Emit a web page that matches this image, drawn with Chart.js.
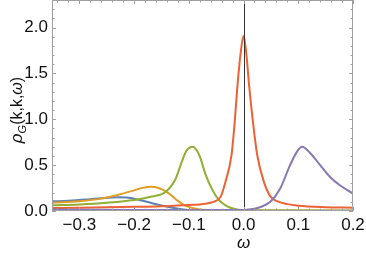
<!DOCTYPE html>
<html>
<head>
<meta charset="utf-8">
<script src="https://cdn.jsdelivr.net/npm/chart.js@4"></script>
<style>
  body { margin: 0; background: #fff; }
  #wrap { width: 366px; height: 255px; }
</style>
</head>
<body>
<div id="wrap"><canvas id="spec"></canvas></div>
<script>
// omega values and spectral weight, one pair per curve
const blueW = [-0.35, -0.32, -0.29, -0.26, -0.23, -0.21, -0.19, -0.17, -0.15, -0.13, -0.11, -0.09, -0.06, -0.02, 0.05, 0.2];
const blueRho = [0.105, 0.113, 0.125, 0.14, 0.15, 0.145, 0.12, 0.09, 0.06, 0.035, 0.017, 0.009, 0.006, 0.005, 0.004, 0.004];

const orangeW = [-0.35, -0.3, -0.26, -0.23, -0.2, -0.185, -0.17, -0.155, -0.14, -0.13, -0.12, -0.11, -0.1, -0.09, -0.075, -0.05, 0, 0.2];
const orangeRho = [0.09, 0.107, 0.135, 0.175, 0.225, 0.252, 0.265, 0.25, 0.205, 0.16, 0.11, 0.07, 0.045, 0.028, 0.014, 0.008, 0.005, 0.004];

const greenW = [-0.35, -0.3, -0.25, -0.2, -0.17, -0.142, -0.125, -0.115, -0.105, -0.093, -0.081, -0.069, -0.057, -0.045, -0.035, -0.024, -0.01, 0.02, 0.2];
const greenRho = [0.063, 0.072, 0.09, 0.12, 0.155, 0.21, 0.34, 0.5, 0.65, 0.70, 0.61, 0.39, 0.23, 0.12, 0.07, 0.035, 0.015, 0.006, 0.004];

const redW = [-0.35, -0.3, -0.25, -0.2, -0.15, -0.1, -0.07, -0.055, -0.042, -0.033, -0.022, -0.016, -0.0115, -0.0055, 0, 0.005, 0.01, 0.017, 0.025, 0.037, 0.049, 0.06, 0.08, 0.1, 0.15, 0.2];
const redRho = [0.033, 0.036, 0.04, 0.045, 0.052, 0.065, 0.08, 0.1, 0.154, 0.32, 0.61, 0.98, 1.34, 1.71, 1.91, 1.72, 1.38, 0.98, 0.61, 0.32, 0.16, 0.11, 0.075, 0.058, 0.042, 0.035];

const purpleW = [-0.35, -0.2, -0.1, -0.05, 0, 0.02, 0.031, 0.049, 0.067, 0.085, 0.098, 0.107, 0.122, 0.14, 0.158, 0.176, 0.2];
const purpleRho = [0.015, 0.012, 0.01, 0.01, 0.012, 0.025, 0.044, 0.1, 0.245, 0.5, 0.65, 0.70, 0.63, 0.5, 0.37, 0.28, 0.19];

const xTicks = [-0.3, -0.2, -0.1, 0.0, 0.1, 0.2];
const yTicks = [0.0, 0.5, 1.0, 1.5, 2.0];

const FONT = "Liberation Sans, Arial, sans-serif";
const FRAME = "#a0a0a0";

function pts(w, r) {
    return w.map((x, i) => ({ x: x, y: r[i] }));
}

function fmt(v) {
    if (Math.abs(v) < 1e-9) return "0.0";
    return v.toFixed(1).replace("-", "\u2212");
}

function series(w, r, color, order) {
    return {
        data: pts(w, r),
        borderColor: color,
        borderWidth: 2,
        pointRadius: 0,
        showLine: true,
        fill: false,
        cubicInterpolationMode: "monotone",
        order: order
    };
}

// frame with inward ticks on all sides, the line at omega = 0, and the axis titles
const framePlugin = {
    id: "frame",
    afterDatasetsDraw(chart) {
        const ctx = chart.ctx;
        const a = chart.chartArea;
        const xs = chart.scales.x;
        const ys = chart.scales.y;
        ctx.save();

        // omega = 0 line
        const x0 = Math.round(xs.getPixelForValue(0)) + 0.5;
        ctx.strokeStyle = "#333";
        ctx.lineWidth = 1;
        ctx.beginPath();
        ctx.moveTo(x0, a.top);
        ctx.lineTo(x0, a.bottom);
        ctx.stroke();

        ctx.strokeStyle = FRAME;
        ctx.strokeRect(a.left + 0.5, a.top + 0.5, a.right - a.left - 1, a.bottom - a.top - 1);

        ctx.beginPath();
        for (let i = -18; i <= 10; i++) {
            const v = i * 0.02;
            if (v < xs.min - 1e-9 || v > xs.max + 1e-9) continue;
            const len = i % 5 === 0 ? 4 : 2.5;
            const px = Math.round(xs.getPixelForValue(v)) + 0.5;
            ctx.moveTo(px, a.bottom);
            ctx.lineTo(px, a.bottom - len);
            ctx.moveTo(px, a.top);
            ctx.lineTo(px, a.top + len);
        }
        for (let i = 0; i <= 23; i++) {
            const v = i * 0.1;
            const len = i % 5 === 0 ? 4 : 2.5;
            const py = Math.round(ys.getPixelForValue(v)) + 0.5;
            ctx.moveTo(a.left, py);
            ctx.lineTo(a.left + len, py);
            ctx.moveTo(a.right, py);
            ctx.lineTo(a.right - len, py);
        }
        ctx.stroke();

        // x title
        ctx.fillStyle = "#111";
        ctx.textAlign = "center";
        ctx.textBaseline = "alphabetic";
        ctx.font = "italic 17px " + FONT;
        ctx.fillText("\u03c9", xs.getPixelForValue(0), 248);

        // y title with subscript
        ctx.translate(22, 110);
        ctx.rotate(-Math.PI / 2);
        const parts = [
            ["\u03c1", "italic 17px " + FONT, 0],
            ["G", "italic 11px " + FONT, 4],
            ["(k,k,", "16px " + FONT, 0],
            ["\u03c9", "italic 16px " + FONT, 0],
            [")", "16px " + FONT, 0]
        ];
        let total = 0;
        parts.forEach(p => { ctx.font = p[1]; total += ctx.measureText(p[0]).width; });
        let cx = -total / 2;
        ctx.textAlign = "left";
        parts.forEach(p => {
            ctx.font = p[1];
            ctx.fillText(p[0], cx, p[2]);
            cx += ctx.measureText(p[0]).width;
        });
        ctx.restore();
    }
};

new Chart(document.getElementById("spec"), {
    type: "scatter",
    data: {
        datasets: [
            series(blueW, blueRho, "#5E81B5", 5),
            series(orangeW, orangeRho, "#E19C24", 4),
            series(greenW, greenRho, "#8FB032", 3),
            series(redW, redRho, "#EB6235", 2),
            series(purpleW, purpleRho, "#8778B3", 1)
        ]
    },
    options: {
        responsive: true,
        maintainAspectRatio: false,
        animation: false,
        layout: { padding: { top: 0, right: 13, left: 0, bottom: 0 } },
        plugins: {
            legend: { display: false },
            tooltip: { enabled: false }
        },
        scales: {
            x: {
                type: "linear",
                min: -0.35,
                max: 0.2,
                afterFit: s => { s.height = 44; s.paddingLeft = 0; s.paddingRight = 0; },
                afterBuildTicks: s => { s.ticks = xTicks.map(v => ({ value: v })); },
                grid: { display: false, drawTicks: false },
                border: { display: false },
                ticks: {
                    padding: 4,
                    maxRotation: 0,
                    autoSkip: false,
                    color: "#111",
                    font: { family: FONT, size: 17 },
                    callback: v => fmt(v)
                }
            },
            y: {
                type: "linear",
                min: 0,
                max: 2.3,
                afterFit: s => { s.width = 52; s.paddingTop = 0; s.paddingBottom = 0; },
                afterBuildTicks: s => { s.ticks = yTicks.map(v => ({ value: v })); },
                grid: { display: false, drawTicks: false },
                border: { display: false },
                ticks: {
                    padding: 4,
                    autoSkip: false,
                    color: "#111",
                    font: { family: FONT, size: 17 },
                    callback: v => fmt(v)
                }
            }
        }
    },
    plugins: [framePlugin]
});
</script>
</body>
</html>
